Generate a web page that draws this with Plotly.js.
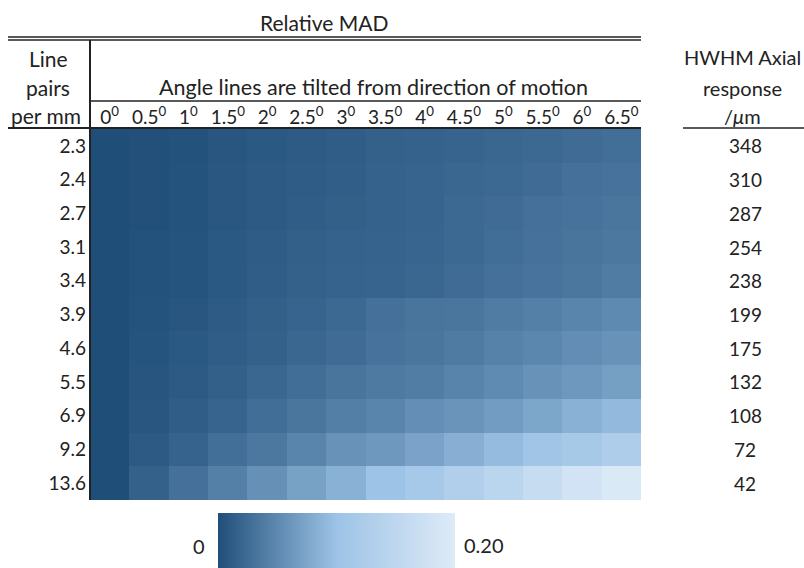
<!DOCTYPE html>
<html><head><meta charset="utf-8">
<script src="https://cdn.plot.ly/plotly-3.0.1.min.js"></script>
<style>html,body{margin:0;padding:0;background:#fff}#chart{width:804px;height:568px}</style>
</head><body><div id="chart"></div>
<script>
// ---- data ----
const angleLabels = ['0','0.5','1','1.5','2','2.5','3','3.5','4','4.5','5','5.5','6','6.5'];
const linePairs = ['2.3','2.4','2.7','3.1','3.4','3.9','4.6','5.5','6.9','9.2','13.6'];
const hwhmAxial = [348,310,287,254,238,199,175,132,108,72,42];

const mad_2_3  = [0.000,0.002,0.003,0.007,0.009,0.011,0.013,0.016,0.017,0.019,0.021,0.023,0.025,0.028];
const mad_2_4  = [0.000,0.002,0.004,0.008,0.010,0.012,0.014,0.017,0.019,0.021,0.023,0.025,0.029,0.031];
const mad_2_7  = [0.000,0.002,0.004,0.008,0.010,0.013,0.015,0.017,0.019,0.023,0.025,0.029,0.031,0.034];
const mad_3_1  = [0.000,0.003,0.005,0.009,0.012,0.015,0.017,0.018,0.020,0.023,0.027,0.030,0.033,0.036];
const mad_3_4  = [0.000,0.003,0.005,0.009,0.013,0.016,0.018,0.019,0.021,0.025,0.029,0.032,0.035,0.039];
const mad_3_9  = [0.000,0.004,0.007,0.011,0.015,0.019,0.023,0.029,0.033,0.034,0.039,0.042,0.046,0.050];
const mad_4_6  = [0.000,0.005,0.009,0.013,0.016,0.021,0.025,0.031,0.034,0.038,0.044,0.048,0.054,0.058];
const mad_5_5  = [0.000,0.006,0.010,0.015,0.021,0.027,0.033,0.037,0.040,0.045,0.051,0.058,0.063,0.069];
const mad_6_9  = [0.000,0.007,0.013,0.019,0.027,0.034,0.041,0.046,0.055,0.060,0.067,0.075,0.084,0.092];
const mad_9_2  = [0.000,0.010,0.018,0.028,0.036,0.046,0.058,0.063,0.073,0.083,0.094,0.105,0.114,0.126];
const mad_13_6 = [0.000,0.016,0.029,0.042,0.056,0.071,0.084,0.100,0.115,0.131,0.145,0.162,0.180,0.194];

const madRows = [mad_2_3,mad_2_4,mad_2_7,mad_3_1,mad_3_4,mad_3_9,mad_4_6,mad_5_5,mad_6_9,mad_9_2,mad_13_6];
const colorMin = 0, colorMax = 0.20;
const colorMinLabel = '0', colorMaxLabel = '0.20';

// ---- geometry helpers (pixel -> paper) ----
const L = 90, R = 641, T = 129, B = 500;
const px = x => (x - L) / (R - L);
const py = y => (B - y) / (B - T);
const FONT = 'Lato, "Open Sans", sans-serif';
const TXT = '#222222';
const FS = 21, NS = 19;

const colIdx = angleLabels.map((_, i) => i);
const rowIdx = linePairs.map((_, i) => i);

const trace = {
  type: 'heatmap',
  x: colIdx, y: rowIdx, z: madRows,
  zmin: colorMin, zmax: colorMax,
  colorscale: [[0,'#1F4E79'],[0.5,'#9DC3E6'],[1,'#DEEBF7']],
  colorbar: {
    orientation: 'h',
    thicknessmode: 'pixels', thickness: 56,
    lenmode: 'pixels', len: 237,
    x: px(218), xanchor: 'left',
    y: py(513), yanchor: 'top',
    xpad: 0, ypad: 0,
    outlinewidth: 0,
    showticklabels: false, ticks: ''
  }
};

function hline(x0, x1, y, w) {
  return {type:'line', xref:'paper', yref:'paper', x0:px(x0), x1:px(x1), y0:py(y), y1:py(y), line:{color:'#222', width:w}};
}
function vline(x, y0, y1, w) {
  return {type:'line', xref:'paper', yref:'paper', x0:px(x), x1:px(x), y0:py(y0), y1:py(y1), line:{color:'#222', width:w}};
}
function txt(text, x, y, size) {
  return {text, xref:'paper', yref:'paper', x:px(x), y:py(y), xanchor:'center', yanchor:'middle',
    showarrow:false, font:{family:FONT, size:size || FS, color:TXT}};
}

const annotations = [
  txt('Relative MAD', 324, 23),
  txt('Line', 48, 58),
  txt('pairs', 48, 87),
  txt('per mm', 46, 115),
  txt('Angle lines are tilted from direction of motion', 373, 87, 21.5),
  txt('HWHM Axial', 742, 57, 20),
  txt('response', 742, 88, 20),
  txt('/<i>μ</i>m', 742, 116, 20),
  txt(colorMinLabel, 199, 546, NS + 1),
  txt(colorMaxLabel, 484, 545, NS + 1)
];
hwhmAxial.forEach((v, i) => {
  annotations.push({text:String(v), xref:'paper', yref:'y', x:px(745), y:i, xanchor:'center', yanchor:'middle',
    showarrow:false, font:{family:FONT, size:NS, color:TXT}});
});

const layout = {
  width: 804, height: 568,
  margin: {l: L, r: 804 - R, t: T, b: 568 - B, pad: 0, autoexpand: false},
  paper_bgcolor: '#ffffff', plot_bgcolor: '#ffffff',
  font: {family: FONT, size: FS, color: TXT},
  xaxis: {
    side: 'top', tickmode: 'array', tickvals: colIdx,
    ticktext: angleLabels.map(a => a + '<sup>0</sup>'),
    ticks: '', showgrid: false, zeroline: false, showline: false,
    ticklabelstandoff: 0,
    tickfont: {family: FONT, size: NS, color: TXT}, fixedrange: true
  },
  yaxis: {
    tickmode: 'array', tickvals: rowIdx, ticktext: linePairs,
    autorange: 'reversed', ticks: '', showgrid: false, zeroline: false, showline: false,
    ticklabelstandoff: 3,
    tickfont: {family: FONT, size: NS, color: TXT}, fixedrange: true
  },
  shapes: [
    hline(8, 641, 37, 1.5),
    hline(8, 641, 40, 1.5),
    vline(90, 40, 500, 2),
    hline(90, 641, 101, 1.5),
    hline(8, 641, 128, 2),
    hline(683, 804, 128, 1.5)
  ],
  annotations
};

Plotly.newPlot('chart', [trace], layout, {displayModeBar: false, staticPlot: true});
</script>
</body></html>
